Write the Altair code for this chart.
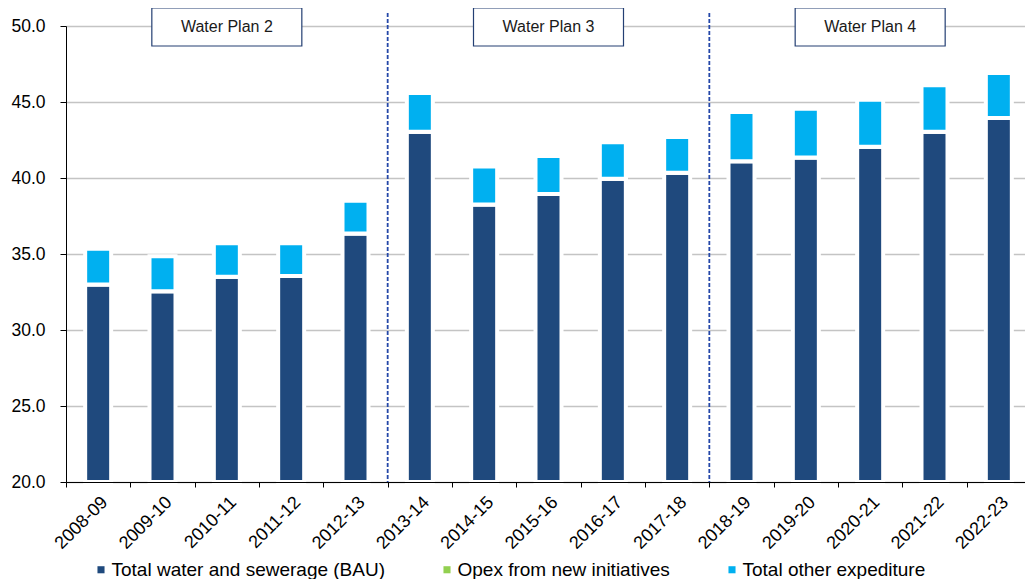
import altair as alt
import pandas as pd

years = ["2008-09", "2009-10", "2010-11", "2011-12", "2012-13", "2013-14", "2014-15",
         "2015-16", "2016-17", "2017-18", "2018-19", "2019-20", "2020-21", "2021-22", "2022-23"]
bau = [33.0, 32.55, 33.5, 33.55, 36.35, 43.05, 38.25, 38.95, 39.95, 40.35,
       41.1, 41.35, 42.05, 43.05, 43.95]
new_init = [0.0, 0.0, 0.0, 0.0, 0.0, 0.0, 0.0, 0.0, 0.0, 0.0, 0.0, 0.0, 0.0, 0.0, 0.0]
other = [2.35, 2.3, 2.2, 2.15, 2.15, 2.55, 2.5, 2.5, 2.4, 2.35,
         3.25, 3.2, 3.1, 3.05, 2.95]

series = ["Total water and sewerage (BAU)", "Opex from new initiatives", "Total other expediture"]
colors = ["#1F497D", "#92D050", "#00B0F0"]

plan_names = ["Water Plan 2", "Water Plan 3", "Water Plan 4"]
plan_centers = ["2010-11", "2015-16", "2020-21"]
plan_bounds = ["2013-14", "2018-19"]
y_ticks = [20, 25, 30, 35, 40, 45, 50]

rows = []
for i, yr in enumerate(years):
    for k, vals in enumerate([bau, new_init, other]):
        rows.append({"year": yr, "series": series[k], "value": vals[i], "order": k})
df = pd.DataFrame(rows)

FONT = "Liberation Sans"

xscale = alt.Scale(type="band", domain=years, paddingInner=0, paddingOuter=0)

bars = alt.Chart(df).mark_bar(size=26, stroke="white", strokeWidth=4).encode(
    x=alt.X("year:N", scale=xscale, sort=years,
            axis=alt.Axis(title=None, labelAngle=-45, labelFontSize=18, labelColor="black",
                          tickBand="extent", tickSize=5, tickColor="black",
                          domainColor="black", labelPadding=6, zindex=1, grid=False,
                          labelFont=FONT)),
    y=alt.Y("value:Q", stack="zero",
            scale=alt.Scale(domain=[20, 50], zero=False, clamp=True, nice=False),
            axis=alt.Axis(title=None, values=y_ticks, format=".1f", labelFontSize=17.5,
                          labelColor="black", grid=True, gridColor="#C4C4C4", gridWidth=1.6,
                          tickSize=6, tickColor="black", labelPadding=15,
                          domainColor="black", labelFont=FONT)),
    color=alt.Color("series:N", scale=alt.Scale(domain=series, range=colors),
                    legend=alt.Legend(title=None, orient="none", legendX=25.5, legendY=534,
                                      direction="horizontal", symbolType="square",
                                      symbolSize=50, labelFontSize=19, columnPadding=52,
                                      labelOffset=1, symbolStrokeWidth=0, labelLimit=500,
                                      labelFont=FONT, labelColor="black", padding=0)),
    order=alt.Order("order:Q"),
)

bdf = pd.DataFrame({"year": plan_bounds})
rules = alt.Chart(bdf).mark_rule(color="#2447A8", strokeWidth=1.8, strokeDash=[4, 2]).encode(
    x=alt.X("year:N", scale=xscale, sort=years, bandPosition=0),
    y=alt.value(-13),
    y2=alt.value(456),
)

pdf = pd.DataFrame({"year": plan_centers, "name": plan_names})
boxes = alt.Chart(pdf).mark_bar(size=150, fill="white", stroke="#243F73", strokeWidth=1.2).encode(
    x=alt.X("year:N", scale=xscale, sort=years),
    y=alt.value(-18),
    y2=alt.value(20),
)
texts = alt.Chart(pdf).mark_text(fontSize=16, font=FONT, color="#1a1a1a", baseline="middle").encode(
    x=alt.X("year:N", scale=xscale, sort=years),
    y=alt.value(1),
    text="name:N",
)

chart = alt.layer(bars, rules, boxes, texts).properties(
    width=965, height=456,
    autosize=alt.AutoSizeParams(type="none"),
    padding={"left": 58, "top": 18, "right": -6, "bottom": 97},
).configure_view(stroke=None).configure(font=FONT)

chart.save("out.html", embed_options={"renderer": "svg", "actions": False})
